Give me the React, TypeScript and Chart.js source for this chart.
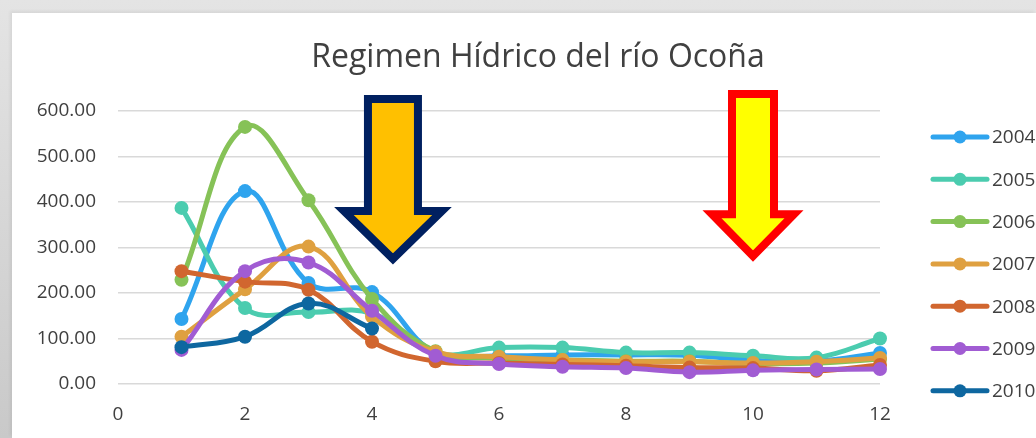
import React, { useEffect, useRef } from "react";
import { Chart, registerables } from "chart.js";

Chart.register(...registerables);

const TITLE = "Regimen Hídrico del río Ocoña";
const MONTHS = [1, 2, 3, 4, 5, 6, 7, 8, 9, 10, 11, 12];
const YEARS = ["2004", "2005", "2006", "2007", "2008", "2009", "2010"];
const S2004 = [143, 424, 222, 202, 68, 62, 64, 64, 63, 52, 50, 68];
const S2005 = [387, 167, 158, 155, 68, 80, 80, 69, 69, 62, 58, 100];
const S2006 = [229, 565, 404, 187, 72, 57, 53, 50, 50, 45, 46, 55];
const S2007 = [104, 208, 302, 148, 71, 60, 53, 49, 49, 46, 49, 57];
const S2008 = [248, 225, 207, 93, 50, 46, 43, 40, 36, 35, 29, 42];
const S2009 = [75, 248, 267, 161, 62, 44, 38, 35, 26, 30, 32, 33];
const S2010 = [81, 104, 177, 122, null, null, null, null, null, null, null, null];
const SERIES = [S2004, S2005, S2006, S2007, S2008, S2009, S2010];
const COLORS = ["#2FA4EE", "#4BCCAF", "#86C257", "#DFA040", "#D1662F", "#A15CD3", "#0E67A0"];

// decorative arrows: [centerX, topY, shaftBottomY, tipY] in data units, half widths in px
const ARROW_X = [4.33, 10];
const ARROW_TOP = [635, 646];
const ARROW_SHAFT_END = [389, 382];
const ARROW_TIP = [262, 268];
const ARROW_SHAFT_HALF = [29, 25];
const ARROW_HEAD_HALF = [59, 51];
const ARROW_FILL = ["#FFC000", "#FFFF00"];
const ARROW_STROKE = ["#002060", "#FF0000"];

const FONT = "'Open Sans', 'Liberation Sans', sans-serif";

const decorPlugin = {
  id: "decor",
  afterDatasetsDraw(chart: any) {
    const { ctx, scales } = chart;
    const xs = scales.x;
    const ys = scales.y;
    ctx.save();
    for (let i = 0; i < ARROW_X.length; i++) {
      const cx = xs.getPixelForValue(ARROW_X[i]);
      const t = ys.getPixelForValue(ARROW_TOP[i]) + 4;
      const s = ys.getPixelForValue(ARROW_SHAFT_END[i]) + 4;
      const p = ys.getPixelForValue(ARROW_TIP[i]) - 6;
      const w = ARROW_SHAFT_HALF[i] - 4;
      const h = ARROW_HEAD_HALF[i] - 10;
      ctx.beginPath();
      ctx.moveTo(cx - w, t);
      ctx.lineTo(cx + w, t);
      ctx.lineTo(cx + w, s);
      ctx.lineTo(cx + h, s);
      ctx.lineTo(cx, p);
      ctx.lineTo(cx - h, s);
      ctx.lineTo(cx - w, s);
      ctx.closePath();
      ctx.fillStyle = ARROW_FILL[i];
      ctx.fill();
      ctx.lineWidth = 8;
      ctx.lineJoin = "miter";
      ctx.strokeStyle = ARROW_STROKE[i];
      ctx.stroke();
    }
    ctx.fillStyle = "#404040";
    ctx.font = `32px ${FONT}`;
    ctx.textAlign = "center";
    ctx.textBaseline = "middle";
    ctx.fillText(TITLE, 526, 45);
    ctx.font = `19px ${FONT}`;
    ctx.textAlign = "left";
    for (let i = 0; i < YEARS.length; i++) {
      const y = 124 + i * 42.3;
      ctx.strokeStyle = COLORS[i];
      ctx.lineWidth = 5;
      ctx.lineCap = "round";
      ctx.beginPath();
      ctx.moveTo(921, y);
      ctx.lineTo(975, y);
      ctx.stroke();
      ctx.fillStyle = COLORS[i];
      ctx.beginPath();
      ctx.arc(948, y, 6.5, 0, Math.PI * 2);
      ctx.fill();
      ctx.fillStyle = "#404040";
      ctx.fillText(YEARS[i], 980, y + 1);
    }
    ctx.restore();
  },
};

export default function App() {
  const ref = useRef<HTMLCanvasElement | null>(null);
  useEffect(() => {
    if (!ref.current) return;
    const datasets = YEARS.map((yr, i) => ({
      label: yr,
      data: MONTHS.map((m, j) => ({ x: m, y: SERIES[i][j] })),
      borderColor: COLORS[i],
      backgroundColor: COLORS[i],
      borderWidth: 5,
      pointRadius: 7,
      pointBorderWidth: 0,
      pointBackgroundColor: COLORS[i],
      tension: 0.4,
      spanGaps: false,
      order: YEARS.length - 1 - i,
      clip: false as any,
    }));
    const chart = new Chart(ref.current, {
      type: "line",
      data: { datasets },
      options: {
        animation: false,
        responsive: false,
        devicePixelRatio: 1,
        layout: { padding: { left: 0, top: 98, right: 156, bottom: 0 } },
        plugins: { legend: { display: false }, title: { display: false }, tooltip: { enabled: false } },
        scales: {
          x: {
            type: "linear",
            min: 0,
            max: 12,
            ticks: { stepSize: 2, color: "#404040", font: { family: FONT, size: 19 }, padding: 19 },
            grid: { display: false, drawTicks: false },
            border: { display: false },
            afterFit: (s: any) => { s.height = 54; },
          },
          y: {
            min: 0,
            max: 600,
            ticks: {
              stepSize: 100,
              color: "#404040",
              font: { family: FONT, size: 19 },
              padding: 22,
              callback: (v: any) => Number(v).toFixed(2),
            },
            grid: { color: "#D9D9D9", lineWidth: 1.5, drawTicks: false },
            border: { display: false },
            afterFit: (s: any) => { s.width = 106; },
          },
        },
      },
      plugins: [decorPlugin],
    });
    return () => chart.destroy();
  }, []);
  return (
    <div style={{ position: "fixed", left: 0, top: 0, width: 1036, height: 438, background: "linear-gradient(to bottom, #E4E4E4, #C9C9C9)" }}>
      <div style={{ position: "absolute", left: 12, top: 13, width: 1024, height: 425, background: "#fff", boxShadow: "-2px -2px 3px rgba(0,0,0,0.06)" }}>
        <canvas ref={ref} width={1024} height={425} style={{ display: "block", width: 1024, height: 425 }} />
      </div>
    </div>
  );
}
